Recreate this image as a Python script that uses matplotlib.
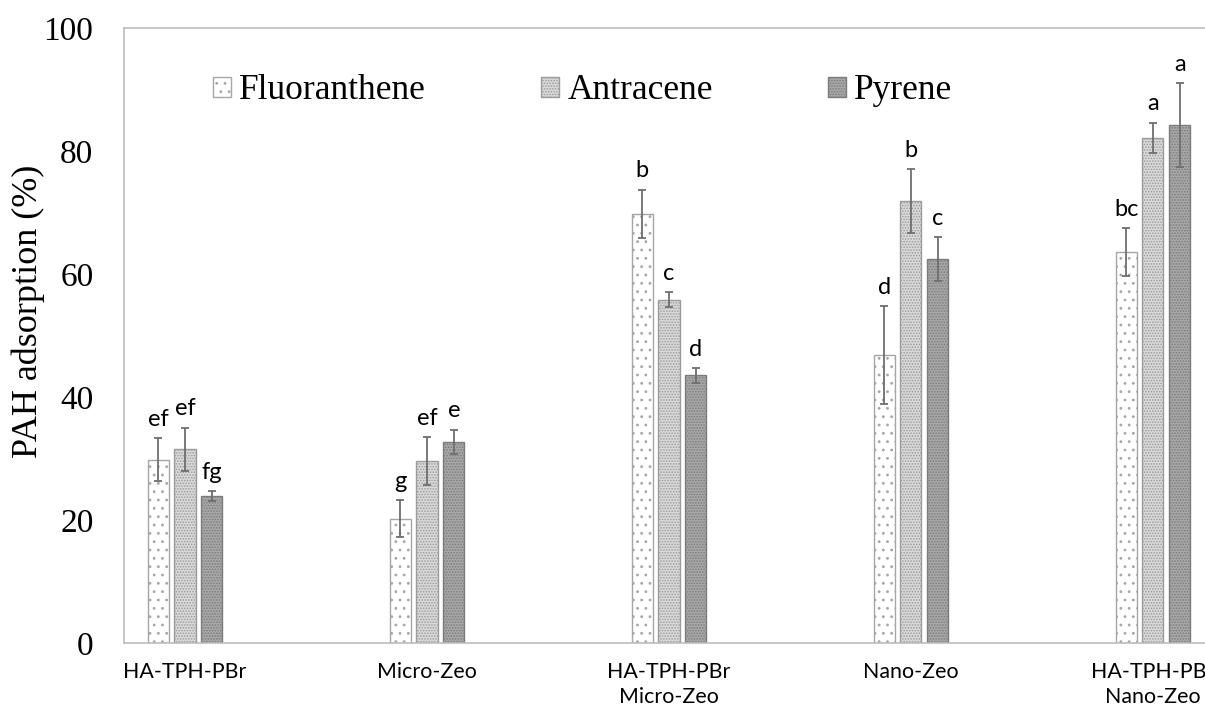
import numpy as np
import matplotlib.pyplot as plt

# data
categories = ['HA-TPH-PBr', 'Micro-Zeo', 'HA-TPH-PBr\nMicro-Zeo', 'Nano-Zeo', 'HA-TPH-PBr\nNano-Zeo']
series = ['Fluoranthene', 'Antracene', 'Pyrene']
fluoranthene = [29.8, 20.2, 69.8, 46.8, 63.6]
antracene = [31.5, 29.6, 55.8, 71.9, 82.1]
pyrene = [23.9, 32.7, 43.5, 62.4, 84.2]
fluoranthene_err = [3.5, 3.0, 3.9, 8.0, 3.9]
antracene_err = [3.5, 3.9, 1.2, 5.2, 2.5]
pyrene_err = [0.8, 2.0, 1.2, 3.6, 6.8]
fluoranthene_lab = ['ef', 'g', 'b', 'd', 'bc']
antracene_lab = ['ef', 'ef', 'c', 'b', 'a']
pyrene_lab = ['fg', 'e', 'd', 'c', 'a']

values = [fluoranthene, antracene, pyrene]
errors = [fluoranthene_err, antracene_err, pyrene_err]
letters = [fluoranthene_lab, antracene_lab, pyrene_lab]

faces = ['white', '#dadada', '#a8a8a8']
edges = ['#a6a6a6', '#9c9c9c', '#7c7c7c']
hatches = ['..', '......', '......']

plt.rcParams['hatch.linewidth'] = 0.8

fig = plt.figure(figsize=(12.05, 7.07), dpi=100)
ax = fig.add_axes([0.1029, 0.0905, 0.8971, 0.8699])

x = np.arange(len(categories))
width = 0.087
step = 0.111

for i in range(3):
    pos = x + (i - 1) * step
    ax.bar(pos, values[i], width, color=faces[i], edgecolor=edges[i],
           hatch=hatches[i], linewidth=1.0, label=series[i], zorder=2)
    ax.errorbar(pos, values[i], yerr=errors[i], fmt='none', ecolor='#6e6e6e',
                elinewidth=1.3, capsize=3, capthick=1.3, zorder=3)
    for xp, v, e, t in zip(pos, values[i], errors[i], letters[i]):
        ax.annotate(t, (xp, v + e), xytext=(0, 6), textcoords='offset points',
                    ha='center', va='bottom', fontsize=17, family='Lato')

ax.set_ylim(0, 100)
ax.set_xlim(-0.252, 4.215)
ax.set_yticks([0, 20, 40, 60, 80, 100])
ax.set_xticks(x)
ax.set_xticklabels(categories, fontsize=15.4, family='Lato', linespacing=1.3)
ax.tick_params(axis='both', length=0)
ax.tick_params(axis='y', pad=22, labelsize=24)
for lab in ax.get_yticklabels():
    lab.set_family('Liberation Serif')
ax.tick_params(axis='x', pad=14)

# y label placed by figure pixels
fig.text(28 / 1205, 1 - 311 / 707, 'PAH adsorption (%)', rotation=90, ha='center', va='center',
         fontsize=26, family='Liberation Serif')

for s in ['left', 'bottom', 'top']:
    ax.spines[s].set_color('#bdbdbd')
    ax.spines[s].set_linewidth(1.2)
ax.spines['right'].set_visible(False)

leg = ax.legend(loc='center left', bbox_to_anchor=((213 - 124) / (1205 * 0.8971), (643 - 91) / 615),
                ncol=3, frameon=False,
                prop={'family': 'Liberation Serif', 'size': 25.5},
                handlelength=0.51, handleheight=0.51, handletextpad=0.23,
                columnspacing=3.25, borderpad=0, borderaxespad=0)

fig.savefig('out.png', dpi=100)
